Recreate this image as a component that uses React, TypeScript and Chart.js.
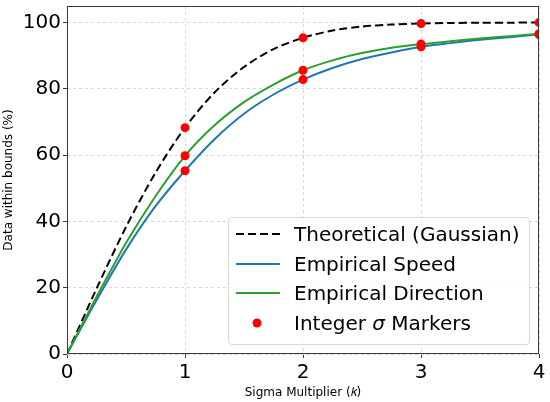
import React, { useEffect, useRef } from "react";
import { Chart, registerables, ChartConfiguration, Plugin } from "chart.js";

Chart.register(...registerables);

// sigma multiplier k
const kValues = [0, 0.25, 0.5, 0.75, 1, 1.25, 1.5, 1.75, 2, 2.25, 2.5, 2.75, 3, 3.25, 3.5, 3.75, 4];
const theoretical = [0, 19.7, 38.3, 54.7, 68.3, 78.9, 86.6, 92.0, 95.4, 97.6, 98.8, 99.4, 99.7, 99.88, 99.95, 99.98, 99.99];
const empiricalSpeed = [0, 16.2, 31.5, 44.6, 55.3, 64.8, 72.5, 78.3, 82.8, 86.3, 89, 91, 92.7, 93.8, 94.8, 95.6, 96.4];
const empiricalDirection = [0, 17.2, 33.5, 47.6, 59.8, 69, 76, 81.3, 85.6, 88.6, 90.8, 92.4, 93.5, 94.4, 95.2, 95.9, 96.6];

const markerK = [1, 2, 3, 4];
const markerTheoretical = [68.3, 95.4, 99.7, 99.99];
const markerSpeed = [55.3, 82.8, 92.7, 96.4];
const markerDirection = [59.8, 85.6, 93.5, 96.6];

const xTicks = [0, 1, 2, 3, 4];
const yTicks = [0, 20, 40, 60, 80, 100];

const BLUE = "#1f77b4";
const GREEN = "#2ca02c";
const FONT = "'DejaVu Sans', sans-serif";

const toPoints = (xs: number[], ys: number[]) => xs.map((x, i) => ({ x, y: ys[i] }));

// box around the plot area, like matplotlib spines
const framePlugin: Plugin = {
  id: "frame",
  afterDraw(chart) {
    const { ctx, chartArea } = chart;
    ctx.save();
    ctx.strokeStyle = "#3a3a3a";
    ctx.lineWidth = 1;
    ctx.strokeRect(chartArea.left + 0.5, chartArea.top + 0.5, chartArea.width - 1, chartArea.height - 1);
    ctx.restore();
  },
};

const lineStyle = { pointRadius: 0, borderWidth: 2, showLine: true, tension: 0.3 };

const config: ChartConfiguration<"scatter"> = {
  type: "scatter",
  data: {
    datasets: [
      {
        label: "Integer σ Markers",
        data: [
          ...toPoints(markerK, markerTheoretical),
          ...toPoints(markerK, markerSpeed),
          ...toPoints(markerK, markerDirection),
        ],
        showLine: false,
        pointRadius: 4.5,
        pointBackgroundColor: "#ff0000",
        pointBorderWidth: 0,
        order: 0,
      },
      {
        label: "Theoretical (Gaussian)",
        data: toPoints(kValues, theoretical),
        borderColor: "#000000",
        borderDash: [8, 4],
        ...lineStyle,
        order: 3,
      },
      {
        label: "Empirical Speed",
        data: toPoints(kValues, empiricalSpeed),
        borderColor: BLUE,
        ...lineStyle,
        order: 2,
      },
      {
        label: "Empirical Direction",
        data: toPoints(kValues, empiricalDirection),
        borderColor: GREEN,
        ...lineStyle,
        order: 1,
      },
    ],
  },
  options: {
    animation: false,
    responsive: false,
    layout: { padding: { left: 0, right: 11, top: 6, bottom: 0 } },
    plugins: {
      legend: { display: false },
      tooltip: { enabled: false },
    },
    scales: {
      x: {
        type: "linear",
        min: 0,
        max: 4,
        afterFit: (scale) => {
          scale.height = 48;
          scale.paddingLeft = 0;
          scale.paddingRight = 0;
        },
        afterBuildTicks: (scale) => {
          scale.ticks = xTicks.map((v) => ({ value: v }));
        },
        ticks: { font: { family: FONT, size: 20 }, color: "#000", padding: 3 },
        grid: { color: "#d6d6d6", lineWidth: 1, tickLength: 4, tickColor: "#3a3a3a" },
        border: { display: false, dash: [3, 3] },
        title: {
          display: true,
          text: "Sigma Multiplier (𝑘)",
          font: { family: FONT, size: 12 },
          color: "#000",
          padding: { top: 0, bottom: 2 },
        },
      },
      y: {
        type: "linear",
        min: 0,
        max: 105,
        afterFit: (scale) => {
          scale.width = 67;
          scale.paddingTop = 0;
          scale.paddingBottom = 0;
        },
        afterBuildTicks: (scale) => {
          scale.ticks = yTicks.map((v) => ({ value: v }));
        },
        ticks: { font: { family: FONT, size: 20 }, color: "#000", padding: 2 },
        grid: { color: "#d6d6d6", lineWidth: 1, tickLength: 4, tickColor: "#3a3a3a" },
        border: { display: false, dash: [3, 3] },
        title: {
          display: true,
          text: "Data within bounds (%)",
          font: { family: FONT, size: 12 },
          color: "#000",
          padding: { top: 2, bottom: 0 },
        },
      },
    },
  },
  plugins: [framePlugin],
};

function Handle({ kind }: { kind: "dash" | "blue" | "green" | "dot" }) {
  return (
    <svg width={44} height={12} style={{ display: "block" }}>
      {kind === "dash" && <line x1={0} y1={6} x2={44} y2={6} stroke="#000" strokeWidth={2} strokeDasharray="8,4" />}
      {kind === "blue" && <line x1={0} y1={6} x2={44} y2={6} stroke={BLUE} strokeWidth={2} />}
      {kind === "green" && <line x1={0} y1={6} x2={44} y2={6} stroke={GREEN} strokeWidth={2} />}
      {kind === "dot" && <circle cx={21} cy={6} r={4.5} fill="#ff0000" />}
    </svg>
  );
}

const legendRows: { kind: "dash" | "blue" | "green" | "dot"; text: React.ReactNode }[] = [
  { kind: "dash", text: "Theoretical (Gaussian)" },
  { kind: "blue", text: "Empirical Speed" },
  { kind: "green", text: "Empirical Direction" },
  { kind: "dot", text: <>Integer <i>σ</i> Markers</> },
];

export default function App() {
  const chartRef = useRef<HTMLCanvasElement | null>(null);

  useEffect(() => {
    document.body.style.margin = "0";
    if (!chartRef.current) {
      return;
    }
    const chartInstance = new Chart(chartRef.current, config);
    return () => {
      chartInstance.destroy();
    };
  }, [chartRef]);

  return (
    <div style={{ position: "relative", width: 550, height: 402, background: "#fff" }}>
      <canvas ref={chartRef} width={550} height={402} style={{ width: 550, height: 402 }}></canvas>
      {/* Legend inside the plot, lower right */}
      <div
        style={{
          position: "absolute",
          left: 228,
          top: 217,
          width: 300,
          height: 126,
          border: "1px solid #d9d9d9",
          borderRadius: 4,
          background: "rgba(255,255,255,0.8)",
          fontFamily: FONT,
          fontSize: 20,
          color: "#000",
        }}
      >
        {legendRows.map((row, i) => (
          <div
            key={i}
            style={{
              position: "absolute",
              left: 7,
              top: 4 + i * 29.7,
              height: 24,
              display: "flex",
              alignItems: "center",
              whiteSpace: "nowrap",
            }}
          >
            <Handle kind={row.kind} />
            <span style={{ marginLeft: 14 }}>{row.text}</span>
          </div>
        ))}
      </div>
    </div>
  );
}
